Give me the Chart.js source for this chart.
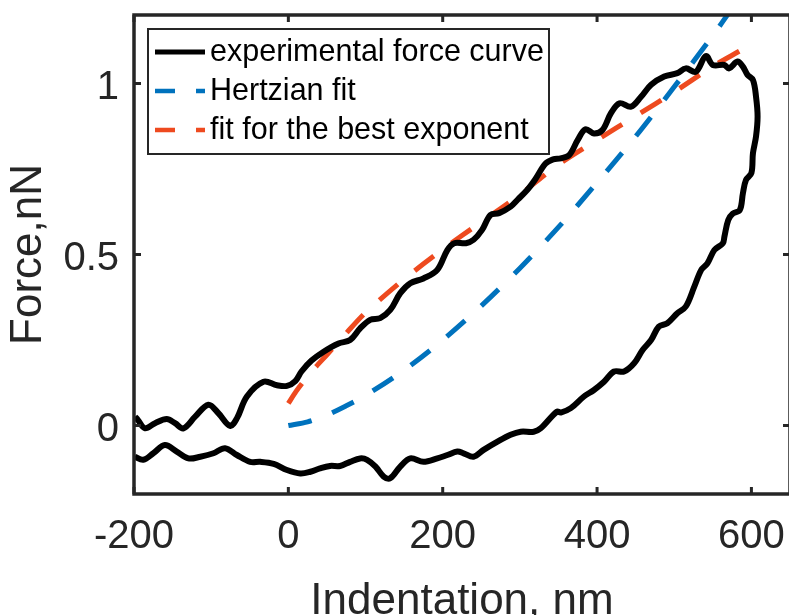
<!DOCTYPE html>
<html>
<head>
<meta charset="utf-8">
<script src="https://cdn.jsdelivr.net/npm/chart.js@4.4.1/dist/chart.umd.min.js"></script>
<style>
  html, body { margin: 0; padding: 0; overflow: hidden; background: #fff; width: 789px; height: 615px; }
  #wrap { width: 791px; height: 615px; }
</style>
</head>
<body>
<div id="wrap"><canvas id="c" width="791" height="615"></canvas></div>
<script>
// Experimental force curve: approach branch (left to right), then retract branch (right to left)
const expX = [
  -198.7, -194.8, -185.7, -172.7, -157.6, -146.8, -136, -120.8, -103.6, -90.6, -75.4, -66.7, -53.7, -32.2, -14.8, -1.8,
  9, 17, 30, 45.7, 65, 80, 93, 106, 119, 132, 145, 158, 175, 193, 206, 215, 230, 240, 251, 262, 273, 288, 297,
  310, 320, 333, 343, 353, 364, 375, 385, 396, 407, 418, 429, 444, 457, 470, 487, 504, 515, 528, 541, 550, 565,
  571, 582, 589, 595, 602, 606, 608,
  606, 602, 600, 593, 589, 585, 576, 570, 565, 563, 552, 543, 535, 526, 515, 504, 491, 480, 470, 459, 448, 435,
  422, 409, 396, 383, 366, 353, 348, 327, 318, 301, 288, 271, 253, 240, 227, 219, 206, 193, 175, 158, 145, 132,
  123.5, 113, 102, 93, 80, 67, 54, 41, 28.5, 15.5, -1.8, -19, -36.5, -49.5, -66.7, -82, -97, -114, -129.5, -144.6,
  -160, -175, -188, -199
];
const expY = [
  0.026, 0.016, -0.008, 0.007, 0.019, 0.007, -0.008, 0.026, 0.061, 0.036, -0.001, 0.021, 0.085, 0.128, 0.118, 0.116,
  0.13, 0.158, 0.19, 0.216, 0.24, 0.25, 0.284, 0.309, 0.314, 0.338, 0.387, 0.416, 0.43, 0.455, 0.513, 0.533, 0.533, 0.543, 0.572, 0.616, 0.621, 0.64, 0.66,
  0.69, 0.72, 0.765, 0.778, 0.781, 0.791, 0.835, 0.866, 0.854, 0.864, 0.913, 0.942, 0.932, 0.961, 0.996, 1.02, 1.03, 1.044, 1.034, 1.08, 1.054, 1.054,
  1.044, 1.064, 1.049, 1.025, 1.01, 0.961, 0.903,
  0.845, 0.796, 0.738, 0.718, 0.679, 0.63, 0.62, 0.601, 0.552, 0.533, 0.513, 0.474, 0.455, 0.406, 0.348, 0.328, 0.299, 0.289, 0.25, 0.221, 0.182, 0.158,
  0.158, 0.128, 0.104, 0.085, 0.051, 0.038, 0.041, -0.008, -0.018, -0.018, -0.027, -0.047, -0.071, -0.091, -0.081, -0.076, -0.086, -0.096, -0.106, -0.096, -0.12, -0.154,
  -0.149, -0.12, -0.1, -0.096, -0.106, -0.118, -0.118, -0.125, -0.135, -0.14, -0.13, -0.112, -0.106, -0.106, -0.086, -0.066, -0.081, -0.091, -0.096, -0.076,
  -0.057, -0.081, -0.1, -0.091
];

// Hertzian fit
const hertzX = [0, 25, 50, 75, 100, 150, 200, 250, 300, 350, 400, 450, 500, 550, 575];
const hertzY = [0, 0.011, 0.031, 0.058, 0.088, 0.162, 0.25, 0.35, 0.46, 0.58, 0.71, 0.845, 0.99, 1.14, 1.22];

// Fit with the best exponent
const bestX = [0, 10, 20, 35, 50, 75, 100, 150, 200, 250, 300, 350, 400, 450, 500, 550, 585];
const bestY = [0.065, 0.1, 0.13, 0.17, 0.207, 0.27, 0.33, 0.428, 0.515, 0.595, 0.675, 0.763, 0.835, 0.905, 0.975, 1.05, 1.095];

const xTicks = [-200, 0, 200, 400, 600];
const yTicks = [0, 0.5, 1];
const seriesNames = ['experimental force curve', 'Hertzian fit', 'fit for the best exponent'];

const FONT = '"Liberation Sans", Arial, Helvetica, sans-serif';
const AXIS = '#262626';
const BLUE = '#0072BD';
const RED = '#EE4A1F';

const pts = (xs, ys) => xs.map((x, i) => ({ x: x, y: ys[i] }));

// Keep the plot area fixed: no extra room reserved for edge tick labels
const noEdgePadding = s => { s.paddingLeft = 0; s.paddingRight = 0; s.paddingTop = 0; s.paddingBottom = 0; };

// Box around the plot area with inward tick marks on all four sides
const framePlugin = {
  id: 'frame',
  afterDatasetsDraw(chart) {
    const { ctx, chartArea: a, scales: { x, y } } = chart;
    const L = 7;
    ctx.save();
    ctx.strokeStyle = AXIS;
    ctx.lineWidth = 3;
    ctx.beginPath();
    x.ticks.forEach(t => {
      const px = x.getPixelForValue(t.value);
      ctx.moveTo(px, a.bottom); ctx.lineTo(px, a.bottom - L);
      ctx.moveTo(px, a.top); ctx.lineTo(px, a.top + L);
    });
    y.ticks.forEach(t => {
      const py = y.getPixelForValue(t.value);
      ctx.moveTo(a.left, py); ctx.lineTo(a.left + L, py);
      ctx.moveTo(a.right, py); ctx.lineTo(a.right - L, py);
    });
    ctx.stroke();
    ctx.lineWidth = 3.5;
    ctx.strokeRect(a.left, a.top, a.right - a.left, a.bottom - a.top);
    ctx.restore();
  }
};

// Boxed legend in the upper-left corner of the plot area
const boxLegend = {
  id: 'boxLegend',
  afterDraw(chart) {
    const { ctx, chartArea: a } = chart;
    const left = a.left + 14, top = a.top + 14, w = 401, h = 125;
    const rows = [23, 62, 101];
    ctx.save();
    ctx.fillStyle = '#fff';
    ctx.fillRect(left, top, w, h);
    ctx.strokeStyle = AXIS;
    ctx.lineWidth = 2;
    ctx.strokeRect(left, top, w, h);
    chart.data.datasets.forEach((ds, i) => {
      const yy = top + rows[i];
      ctx.strokeStyle = ds.borderColor;
      ctx.lineWidth = i === 0 ? 5 : 4.5;
      ctx.setLineDash(i === 0 ? [] : [20, 21]);
      ctx.beginPath();
      ctx.moveTo(left + 7, yy);
      ctx.lineTo(left + 57, yy);
      ctx.stroke();
      ctx.setLineDash([]);
      ctx.fillStyle = '#000';
      ctx.font = '30.5px ' + FONT;
      ctx.textBaseline = 'middle';
      ctx.textAlign = 'left';
      ctx.fillText(ds.label, left + 62, yy + 1);
    });
    ctx.restore();
  }
};

new Chart(document.getElementById('c'), {
  type: 'scatter',
  data: {
    datasets: [
      {
        label: seriesNames[0],
        data: pts(expX, expY),
        showLine: true, borderColor: '#000', borderWidth: 6,
        pointRadius: 0, tension: 0.35, fill: false
      },
      {
        label: seriesNames[1],
        data: pts(hertzX, hertzY),
        showLine: true, borderColor: BLUE, borderWidth: 5, borderDash: [24, 22],
        pointRadius: 0, tension: 0.3, fill: false
      },
      {
        label: seriesNames[2],
        data: pts(bestX, bestY),
        showLine: true, borderColor: RED, borderWidth: 5, borderDash: [24, 22],
        pointRadius: 0, tension: 0.3, fill: false
      }
    ]
  },
  options: {
    responsive: false,
    animation: false,
    events: [],
    layout: { padding: { top: 15, left: 0, right: 1, bottom: 0 } },
    plugins: { legend: { display: false }, tooltip: { enabled: false } },
    scales: {
      x: {
        type: 'linear', min: -200, max: 650,
        afterBuildTicks: s => { s.ticks = xTicks.map(v => ({ value: v })); },
        afterFit: s => { s.height = 121; noEdgePadding(s); },
        grid: { display: false, drawTicks: false },
        border: { display: false },
        ticks: { font: { size: 40, family: FONT }, color: AXIS, padding: 19, maxRotation: 0, autoSkip: false },
        title: { display: true, text: 'Indentation, nm', color: AXIS, font: { size: 44, family: FONT }, padding: { top: 0, bottom: -13 } }
      },
      y: {
        type: 'linear', min: -0.2, max: 1.2,
        afterBuildTicks: s => { s.ticks = yTicks.map(v => ({ value: v })); },
        afterFit: s => { s.width = 134; noEdgePadding(s); },
        grid: { display: false, drawTicks: false },
        border: { display: false },
        // label sits on the second of two short lines, placing it slightly below its tick
        ticks: { font: { size: 40, family: FONT, lineHeight: 0.225 }, color: AXIS, padding: 15, callback: v => ['', String(v)] },
        title: { display: true, text: 'Force,nN', color: AXIS, font: { size: 44, family: FONT }, padding: 2 }
      }
    }
  },
  plugins: [framePlugin, boxLegend]
});
</script>
</body>
</html>
